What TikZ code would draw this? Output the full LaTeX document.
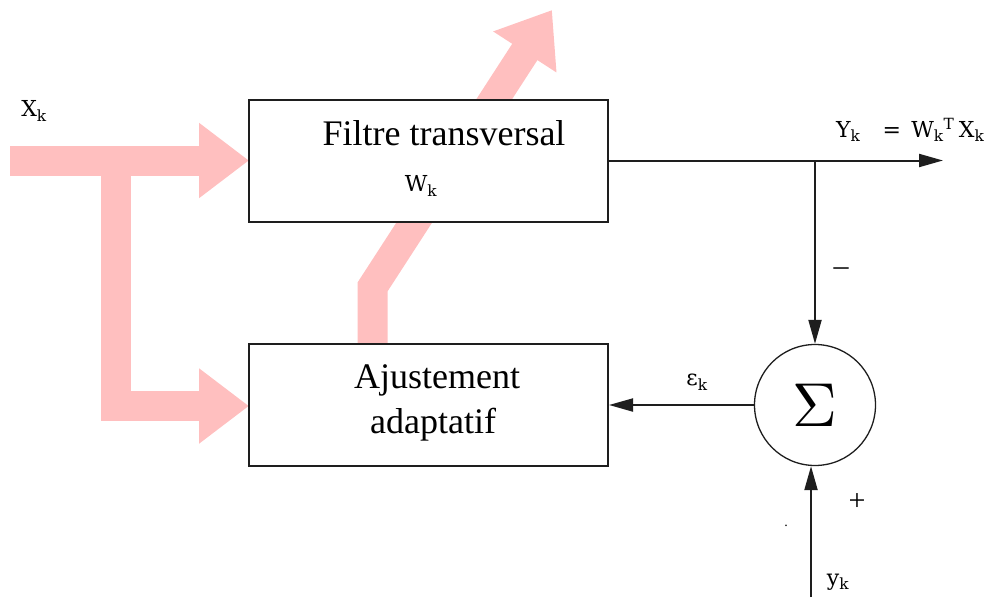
\documentclass[tikz,border=0pt]{standalone}
\usepackage{fontspec}
\setmainfont{Liberation Serif}
\newfontfamily\lblfont{DejaVu Serif}
\usetikzlibrary{arrows.meta}
\definecolor{pinkarrow}{RGB}{255,191,191}
\definecolor{wirecol}{RGB}{30,30,30}
\begin{document}
\begin{tikzpicture}[x=1pt,y=-1pt,
  box/.style={draw=wirecol, line width=2pt, fill=white, minimum width=359pt, minimum height=122pt, inner sep=0pt},
  sumnode/.style={draw=wirecol, line width=1.3pt, circle, fill=white, minimum size=121pt, inner sep=0pt},
  fat/.style={draw=pinkarrow, line width=30pt, line join=miter, -{Triangle[length=50pt,width=72pt]}},
  wire/.style={draw=wirecol, line width=2pt, -{Triangle[length=24pt,width=13pt]}},
  boxtext/.style={font=\fontsize{36}{40}\selectfont, inner sep=0pt},
  lbl/.style={font=\lblfont\fontsize{22}{25}\selectfont, inner sep=0pt}
]
\useasboundingbox (0,0) rectangle (990,597);

% pink fat arrows (drawn first, behind boxes)
\coordinate (xin) at (10,160.5);
\coordinate (fork) at (115.5,160.5);
\coordinate (corner) at (115.5,406);
\coordinate (topin) at (249,160.5);
\coordinate (botin) at (249,406);
\coordinate (adjout) at (372.5,350);
\coordinate (bend) at (372.5,287);
\coordinate (wout) at (552,10);
\draw[fat] (xin) -- (topin);
\draw[fat] (fork) -- (corner) -- (botin);
\draw[fat] (adjout) -- (bend) -- (wout);

% blocks
\node[box] (filt) at (428.5,160.5) {};
\node[box] (adj) at (428.5,404.5) {};
\node[sumnode] (sum) at (815,405) {};

\node[boxtext] (filttxt) at (444,133) {Filtre transversal};
\node[lbl] (wk) at (421,186) {W\textsubscript{k}};
\node[boxtext] (adjtxt1) at (437,380) {Ajustement};
\node[boxtext] (adjtxt2) at (433,425) {adaptatif};
\node[scale=6.2, inner sep=0pt] (sigma) at (815,405) {$\Sigma$};

% wires
\coordinate (yout) at (943,160.5);
\coordinate (junc) at (815,160.5);
\coordinate (dsrc) at (811,597);
\draw[wire] (filt.east |- yout) -- (yout);
\draw[wire] (junc) -- (sum.north);
\draw[wire] (sum.west) -- (adj.east |- sum.west);
\draw[wire] (dsrc) -- (dsrc |- sum.south);

% labels
\node[lbl] (xk) at (34,111) {X\textsubscript{k}};
\node[lbl, anchor=west] (yk) at (836,130) {Y\textsubscript{k}\hspace{1em}= \hspace{0.15em}W\textsubscript{k}\textsuperscript{T}\hspace{0.2em}X\textsubscript{k}};
\node[lbl] (ek) at (697,382) {ε\textsubscript{k}};
\node[font=\fontsize{30}{32}\selectfont, inner sep=0pt] (minus) at (841,272) {\textendash};
\node[font=\fontsize{30}{32}\selectfont, inner sep=0pt] (plus) at (857,502) {+};
\node[font=\fontsize{14}{16}\selectfont, inner sep=0pt] (dot) at (786,526) {.};
\node[lbl] (dk) at (838,582) {y\textsubscript{k}};
\end{tikzpicture}
\end{document}
